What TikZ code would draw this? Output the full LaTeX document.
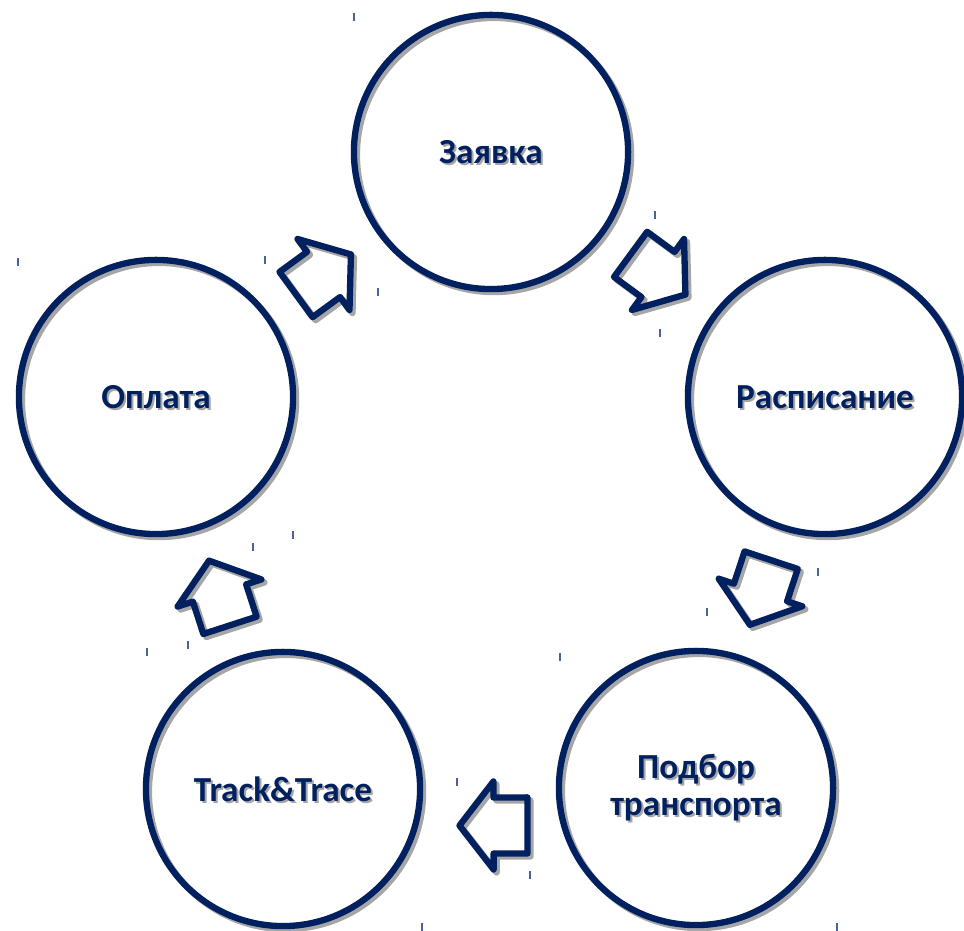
\documentclass[tikz,border=0pt]{standalone}
\usepackage{fontspec}
\setsansfont{Carlito}
\usetikzlibrary{calc}

\definecolor{navy}{RGB}{0,32,96}
\definecolor{shadowgray}{RGB}{166,166,166}

\tikzset{
  stage/.style={circle, draw=navy, line width=1.8pt, minimum size=2.74cm, inner sep=0pt},
  stageshadow/.style={stage, draw=shadowgray},
  labeltext/.style={text=navy, font=\sffamily\bfseries\fontsize{10}{10.5}\selectfont, align=center},
  labelshadow/.style={labeltext, text=shadowgray},
  flowline/.style={draw=navy, line width=1.8pt, line join=round},
  flowshadow/.style={flowline, draw=shadowgray},
  speck/.style={navy!70, line width=0.5pt},
}

% a stage: name, position, text (ring and text with their shadows)
\newcommand{\stage}[3]{%
  \node[stageshadow] at ($(#2)+(3,-3)$) {};
  \node[stage] (#1) at (#2) {};
  \node[labelshadow] at ($(#1)+(2,-2)$) {#3};
  \node[labeltext] at (#1) {#3};
}

% a block arrow halfway between two stages, pointing from #2 to #3
\newcommand{\flow}[3][0,0]{%
  \path let \p1=($(#3)-(#2)$), \n1={atan2(\y1,\x1)} in \pgfextra{\xdef\flowangle{\n1}};
  \begin{scope}[shift={($(#2)!0.5!(#3)+(#1)+(3,-3)$)}, rotate=\flowangle]
    \draw[flowshadow] (-34,-28) -- (0,-28) -- (0,-44) -- (34,0) -- (0,44) -- (0,28) -- (-34,28) -- cycle;
  \end{scope}
  \begin{scope}[shift={($(#2)!0.5!(#3)+(#1)$)}, rotate=\flowangle]
    \draw[flowline] (-34,-28) -- (0,-28) -- (0,-44) -- (34,0) -- (0,44) -- (0,28) -- (-34,28) -- cycle;
  \end{scope}
}

\begin{document}
\begin{tikzpicture}[x=0.01cm, y=0.01cm]
\useasboundingbox (0,0) rectangle (964,931);

% stages
\stage{zayavka}{491,779}{Заявка}
\stage{raspisanie}{825,534}{Расписание}
\stage{podbor}{696,143}{Подбор\\транспорта}
\stage{track}{283,142}{Track\&Trace}
\stage{oplata}{156,534}{Оплата}

% arrows between stages
\flow{zayavka}{raspisanie}
\flow{raspisanie}{podbor}
\flow[4,-37]{podbor}{track}
\flow{track}{oplata}
\flow{oplata}{zayavka}

% stray specks
\foreach \x/\y in {354/914, 18/669, 265/671, 378/639, 655/716, 660/598,
                   818/359, 707/319, 253/384, 293/396, 188/286, 147/279,
                   560/274, 457/149, 530/56, 422/4, 837/4}
  \draw[speck] (\x,\y+4) -- (\x,\y-4);
\end{tikzpicture}
\end{document}
